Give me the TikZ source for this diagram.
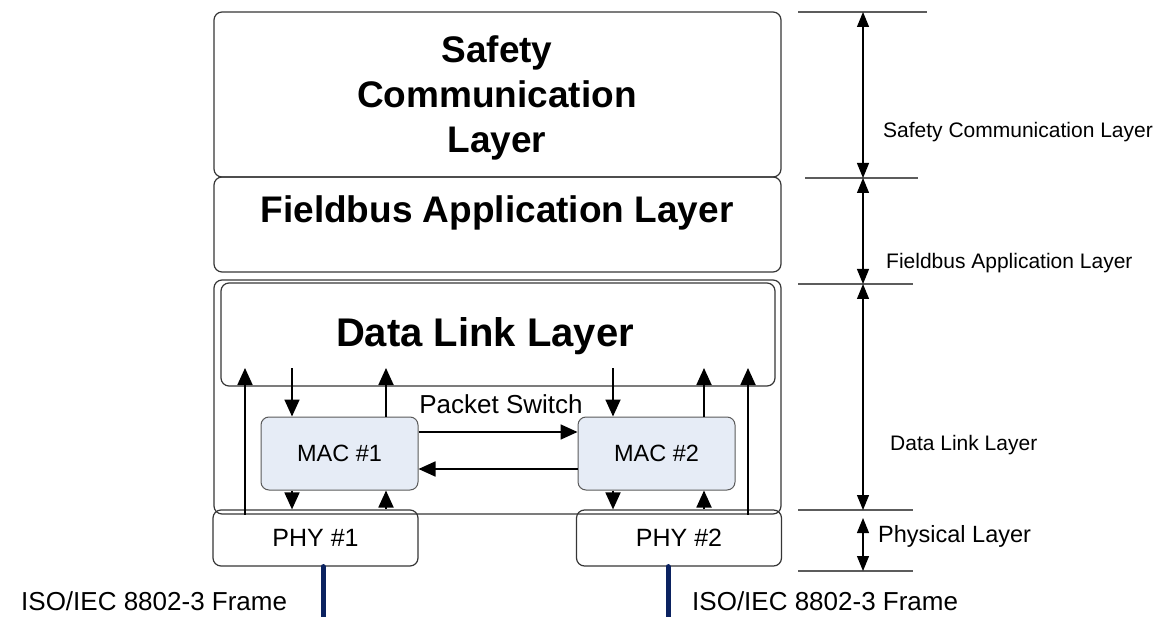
\documentclass[tikz,border=0pt]{standalone}
\usepackage{fontspec}
\setmainfont{Liberation Sans}
\usetikzlibrary{positioning, arrows.meta, calc}
\definecolor{lyLine}{HTML}{363636}
\definecolor{lyMacFill}{HTML}{E6ECF6}
\definecolor{lyMacLine}{HTML}{5A5A5A}
\definecolor{lyWire}{HTML}{0B2260}
\definecolor{lyTick}{HTML}{5C5C5C}
\tikzset{
  layerbox/.style={
    rectangle, rounded corners=8pt,
    draw=lyLine, line width=1.2pt,
    inner sep=0pt
  },
  macbox/.style={
    rectangle, rounded corners=8pt,
    draw=lyMacLine, line width=1pt,
    fill=lyMacFill, inner sep=0pt,
    minimum width=157pt, minimum height=73pt,
    font=\fontsize{23.5}{28}\selectfont
  },
  phybox/.style={
    layerbox, minimum width=205pt, minimum height=56pt,
    font=\fontsize{25}{30}\selectfont
  },
  bigtext/.style={font=\fontsize{37}{45}\selectfont\bfseries, inner sep=0pt, align=center},
  dimtext/.style={font=\fontsize{21}{25}\selectfont, inner sep=0pt, anchor=base west},
  smalltext/.style={font=\fontsize{26}{30}\selectfont, inner sep=0pt},
  sigarrow/.style={
    -{Triangle[length=17pt, width=15pt]},
    line width=1.8pt
  },
  dimarrow/.style={
    {Triangle[length=15pt, width=12pt]}-{Triangle[length=15pt, width=12pt]},
    line width=1.1pt
  },
  tick/.style={draw=lyTick, line width=1.1pt},
  wire/.style={draw=lyWire, line width=5pt, line cap=round}
}

\begin{document}
\begin{tikzpicture}[x=1pt, y=-1pt]
  \useasboundingbox (0,0) rectangle (1153,617);

  % layer boxes
  \node[layerbox, minimum width=567pt, minimum height=165pt] (scl) at (497.5,94.5) {};
  \node[layerbox, minimum width=567pt, minimum height=95pt] (fal) at (497.5,224.5) {};
  \node[layerbox, minimum width=567pt, minimum height=234pt] (dlo) at (497.5,397) {};
  \node[layerbox, minimum width=554pt, minimum height=103pt] (dll) at (498,334.5) {};

  \node[bigtext] (scltxt) at (497,98) {Safety\\Communication\\Layer};
  \node[bigtext, anchor=base] (faltxt) at (497,223) {Fieldbus Application Layer};
  \node[bigtext, font=\fontsize{40}{48}\selectfont\bfseries, anchor=base] (dlltxt) at (485,346) {Data Link Layer};

  % MAC and PHY
  \node[macbox] (mac1) at (339.5,453.5) {MAC \#1};
  \node[macbox] (mac2) at (656.5,453.5) {MAC \#2};
  \node[phybox] (phy1) at (315.5,538) {PHY \#1};
  \node[phybox] (phy2) at (679,538) {PHY \#2};

  \node[smalltext, anchor=base] (pswitch) at (501,413) {Packet Switch};
  \draw[sigarrow] ($(mac1.east)+(0,-21.5)$) -- ($(mac2.west)+(0,-21.5)$);
  \draw[sigarrow] ($(mac2.west)+(0,15.5)$) -- ($(mac1.east)+(0,15.5)$);

  % signal paths
  \coordinate (lup1) at (245,368);
  \coordinate (dn1) at (292,368);
  \coordinate (up1) at (386,368);
  \coordinate (dn2) at (613,368);
  \coordinate (up2) at (704,368);
  \coordinate (lup2) at (748,368);

  \draw[sigarrow] (lup1 |- dlo.south) -- (lup1);
  \draw[sigarrow] (lup2 |- dlo.south) -- (lup2);
  \draw[sigarrow] (dn1) -- (dn1 |- mac1.north);
  \draw[sigarrow] (up1 |- mac1.north) -- (up1);
  \draw[sigarrow] (dn2) -- (dn2 |- mac2.north);
  \draw[sigarrow] (up2 |- mac2.north) -- (up2);
  \draw[sigarrow] (dn1 |- mac1.south) -- (dn1 |- phy1.north);
  \draw[sigarrow] (up1 |- phy1.north) -- (up1 |- mac1.south);
  \draw[sigarrow] (dn2 |- mac2.south) -- (dn2 |- phy2.north);
  \draw[sigarrow] (up2 |- phy2.north) -- (up2 |- mac2.south);

  % frames on the wire
  \coordinate (frame1) at (323,625);
  \coordinate (frame2) at (668,625);
  \draw[wire] (frame1 |- phy1.south) -- (frame1);
  \draw[wire] (frame2 |- phy2.south) -- (frame2);
  \node[smalltext, anchor=base west] (iso1) at (21,610) {ISO/IEC 8802-3 Frame};
  \node[smalltext, anchor=base west] (iso2) at (692,610) {ISO/IEC 8802-3 Frame};

  % layer extents
  \draw[tick] (798,12) -- (927,12);
  \draw[tick] (805,178) -- (918,178);
  \draw[tick] (798,284) -- (913,284);
  \draw[tick] (798,510) -- (913,510);
  \draw[tick] (798,571) -- (913,571);
  \coordinate (m0) at (863,12);
  \coordinate (m1) at (863,178);
  \coordinate (m2) at (863,284);
  \coordinate (m3) at (863,510);
  \coordinate (m4) at (863,571);
  \draw[dimarrow] (m0) -- (m1);
  \draw[dimarrow] (m1) -- (m2);
  \draw[dimarrow] (m2) -- (m3);
  \draw[dimarrow] ($(m3)+(0,8)$) -- (m4);

  \node[dimtext] (scllbl) at (883,137.5) {Safety Communication Layer};
  \node[dimtext] (fallbl) at (886,269) {Fieldbus Application Layer};
  \node[dimtext] (dlllbl) at (890,450.5) {Data Link Layer};
  \node[dimtext, font=\fontsize{23.5}{28}\selectfont] (phylbl) at (878,542.5) {Physical Layer};
\end{tikzpicture}
\end{document}
